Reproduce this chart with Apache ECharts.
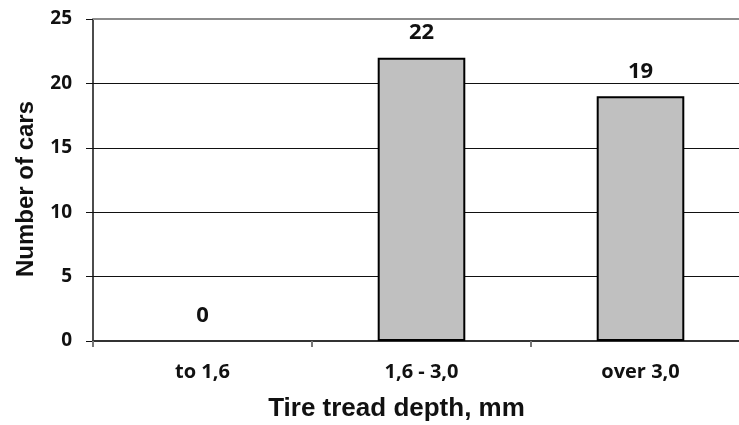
<!DOCTYPE html>
<html>
<head>
<meta charset="utf-8">
<script src="https://cdn.jsdelivr.net/npm/echarts@6/dist/echarts.min.js"></script>
<style>
  html, body { margin: 0; padding: 0; background: #fff; }
  #chart { width: 739px; height: 425px; }
</style>
</head>
<body>
<div id="chart"></div>
<script>
// Tread depth groups and car counts
const categories = ['to 1,6', '1,6 - 3,0', 'over 3,0'];
const carCounts = [0, 22, 19];
const yMin = 0;
const yMax = 25;
const yStep = 5;
const xTitle = 'Tire tread depth, mm';
const yTitle = 'Number of cars';

const tickFont = '"Open Sans", Lato, sans-serif';
const titleFont = '"Liberation Sans", Arial, sans-serif';

const chart = echarts.init(document.getElementById('chart'), null, { renderer: 'canvas' });

// An empty bar gets no outline so the baseline stays clean
const barData = carCounts.map(v => ({
  value: v,
  itemStyle: v === 0 ? { borderWidth: 0 } : {}
}));

chart.setOption({
  animation: false,
  backgroundColor: '#ffffff',
  // plot area runs a little past the right edge of the canvas
  grid: {
    left: 93, top: 19, width: 657, height: 322,
    containLabel: false,
    outerBoundsMode: 'none'
  },
  xAxis: {
    type: 'category',
    data: categories,
    boundaryGap: true,
    axisLine: { show: true, lineStyle: { color: '#333', width: 2 } },
    axisTick: { show: true, length: 6, lineStyle: { color: '#777', width: 2 } },
    axisLabel: {
      margin: 21,
      color: '#111',
      fontFamily: tickFont,
      fontWeight: 'bold',
      fontSize: 20
    },
    name: xTitle,
    nameLocation: 'middle',
    nameGap: 55,
    nameTextStyle: {
      color: '#111',
      fontFamily: titleFont,
      fontWeight: 'bold',
      fontSize: 26,
      padding: [0, 50, 0, 0]
    }
  },
  yAxis: {
    type: 'value',
    min: yMin,
    max: yMax,
    interval: yStep,
    axisLine: { show: true, lineStyle: { color: '#111', width: 1.5 } },
    axisTick: { show: true, inside: false, length: 7, lineStyle: { color: '#111', width: 1 } },
    splitLine: { show: true, lineStyle: { color: ['#111', '#111', '#111', '#111', '#111', 'rgba(0,0,0,0)'], width: 1.2 } },
    axisLabel: {
      margin: 21,
      color: '#111',
      fontFamily: tickFont,
      fontWeight: 'bold',
      fontSize: 19
    },
    name: yTitle,
    nameLocation: 'middle',
    nameGap: 55,
    nameTextStyle: {
      color: '#111',
      fontFamily: titleFont,
      fontWeight: 'bold',
      fontSize: 24,
      padding: [0, 18, 0, 0]
    }
  },
  series: [{
    type: 'bar',
    data: barData,
    barWidth: '40%',
    itemStyle: { color: '#c0c0c0', borderColor: '#000', borderWidth: 2 },
    label: {
      show: true,
      position: 'top',
      distance: 14,
      color: '#111',
      fontFamily: tickFont,
      fontWeight: 'bold',
      fontSize: 22
    },
    markLine: {
      silent: true,
      symbol: 'none',
      label: { show: false },
      lineStyle: { color: '#8c8c8c', width: 2, type: 'solid' },
      data: [{ yAxis: yMax }]
    }
  }]
});
</script>
</body>
</html>
